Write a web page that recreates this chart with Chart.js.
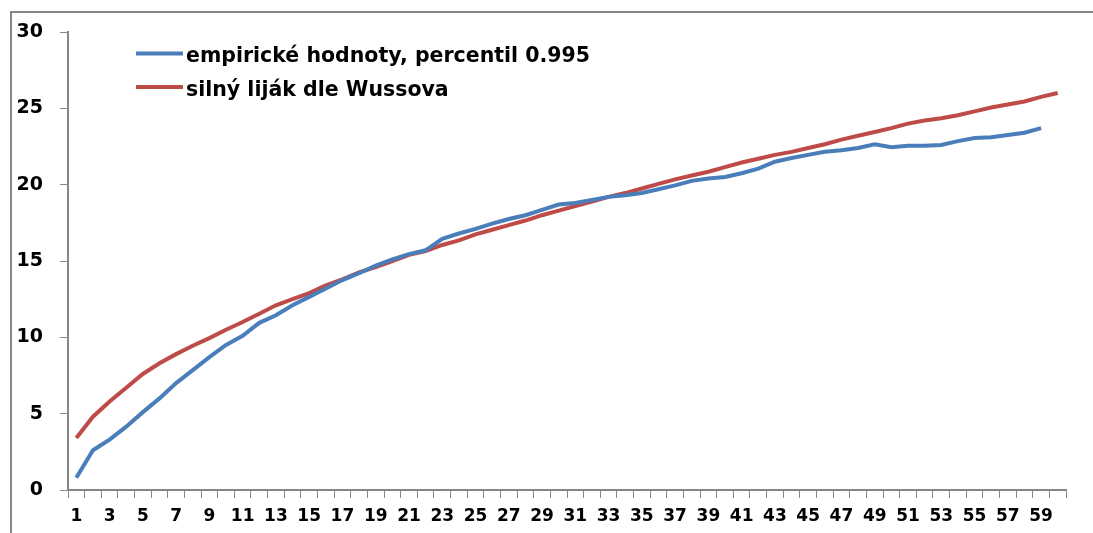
<!DOCTYPE html>
<html>
<head>
<meta charset="utf-8">
<script src="https://cdn.jsdelivr.net/npm/chart.js@4/dist/chart.umd.min.js"></script>
<style>
  html, body { margin: 0; padding: 0; background: #fff; }
  #wrap { position: relative; width: 1093px; height: 533px; }
</style>
</head>
<body>
<div id="wrap"><canvas id="chart"></canvas></div>
<script>
// --- Data ---
const durations = Array.from({ length: 60 }, (_, i) => String(i + 1));

const empirical = [
  0.8, 2.6, 3.3, 4.15, 5.1, 6.0, 7.0, 7.85, 8.7, 9.5,
  10.1, 10.95, 11.45, 12.1, 12.65, 13.2, 13.75, 14.2, 14.7, 15.1,
  15.45, 15.7, 16.45, 16.8, 17.1, 17.45, 17.75, 18.0, 18.35, 18.7,
  18.8, 19.0, 19.2, 19.3, 19.45, 19.7, 19.95, 20.25, 20.4, 20.5,
  20.75, 21.05, 21.5, 21.75, 21.95, 22.15, 22.25, 22.4, 22.65, 22.45,
  22.55, 22.55, 22.6, 22.85, 23.05, 23.1, 23.25, 23.4, 23.7
];

const wussov = [
  3.4, 4.8, 5.8, 6.7, 7.6, 8.3, 8.9, 9.45, 9.95, 10.5,
  11.0, 11.55, 12.1, 12.5, 12.9, 13.4, 13.8, 14.25, 14.6, 15.0,
  15.4, 15.65, 16.05, 16.35, 16.75, 17.05, 17.35, 17.65, 18.0, 18.3,
  18.6, 18.9, 19.2, 19.45, 19.75, 20.05, 20.35, 20.6, 20.85, 21.15,
  21.45, 21.7, 21.95, 22.15, 22.4, 22.65, 22.95, 23.2, 23.45, 23.7,
  24.0, 24.2, 24.35, 24.55, 24.8, 25.05, 25.25, 25.45, 25.75, 26.0
];

const seriesNames = ['empirické hodnoty, percentil 0.995', 'silný liják dle Wussova'];

const COLORS = {
  blue: '#4a7ebb',
  red: '#be4b48',
  axis: '#868686',
  text: '#000000'
};
const FONT = "'DejaVu Sans', sans-serif";

// --- Outer frame (chart border like the spreadsheet object) ---
const framePlugin = {
  id: 'frame',
  beforeDraw(chart) {
    const ctx = chart.ctx;
    ctx.save();
    ctx.fillStyle = '#fff';
    ctx.fillRect(0, 0, chart.width, chart.height);
    ctx.strokeStyle = COLORS.axis;
    ctx.lineWidth = 2;
    ctx.strokeRect(11, 12, 1200, 700);
    ctx.restore();
  }
};

// --- Legend drawn inside the plot ---
const innerLegend = {
  id: 'innerLegend',
  afterDraw(chart) {
    const ctx = chart.ctx;
    ctx.save();
    ctx.font = 'bold 20.5px ' + FONT;
    ctx.textBaseline = 'alphabetic';
    chart.data.datasets.forEach((ds, i) => {
      const y = 53.5 + i * 33.5;
      ctx.strokeStyle = ds.borderColor;
      ctx.lineWidth = 4;
      ctx.beginPath();
      ctx.moveTo(136, y);
      ctx.lineTo(183, y);
      ctx.stroke();
      ctx.fillStyle = COLORS.text;
      ctx.fillText(ds.label, 186, y + 8.5);
    });
    ctx.restore();
  }
};

new Chart(document.getElementById('chart'), {
  type: 'line',
  data: {
    labels: durations,
    datasets: [
      {
        label: seriesNames[0],
        data: empirical,
        borderColor: COLORS.blue,
        borderWidth: 4,
        pointRadius: 0,
        tension: 0
      },
      {
        label: seriesNames[1],
        data: wussov,
        borderColor: COLORS.red,
        borderWidth: 4,
        pointRadius: 0,
        tension: 0
      }
    ]
  },
  options: {
    responsive: true,
    maintainAspectRatio: false,
    animation: false,
    layout: { padding: { left: 0, top: 32, right: 27, bottom: 0 } },
    plugins: {
      legend: { display: false },
      tooltip: { enabled: false }
    },
    scales: {
      x: {
        type: 'category',
        offset: true,
        grid: { offset: true, drawOnChartArea: false, tickLength: 8, color: COLORS.axis },
        border: { color: COLORS.axis, width: 2 },
        ticks: {
          autoSkip: false,
          maxRotation: 0,
          padding: 8,
          color: COLORS.text,
          font: { family: FONT, size: 17, weight: 'bold' },
          callback: (v, i) => (i % 2 === 0 ? durations[i] : '')
        },
        afterFit: s => { s.height = 43; }
      },
      y: {
        min: 0,
        max: 30,
        grid: { drawOnChartArea: false, tickLength: 8, color: COLORS.axis },
        border: { color: COLORS.axis, width: 2 },
        ticks: {
          stepSize: 5,
          padding: 17,
          color: COLORS.text,
          font: { family: FONT, size: 19, weight: 'bold' }
        },
        afterFit: s => { s.width = 68; }
      }
    }
  },
  plugins: [framePlugin, innerLegend]
});
</script>
</body>
</html>
